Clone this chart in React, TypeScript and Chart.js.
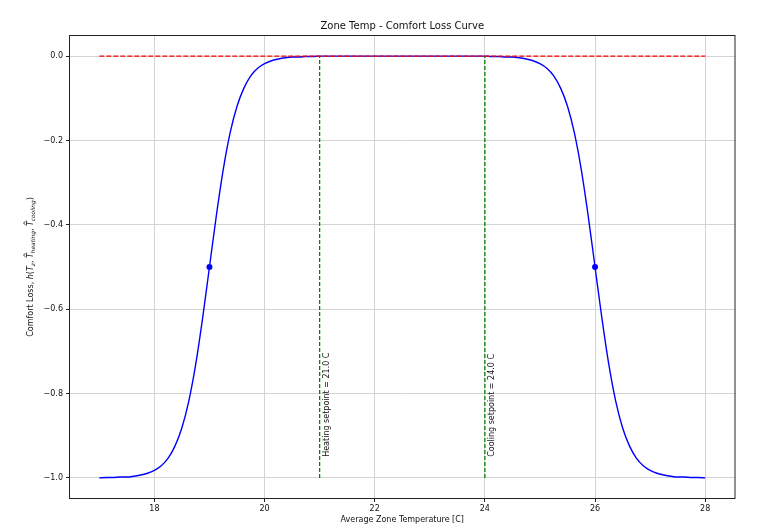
import React, { useEffect, useRef } from "react";
import { Chart, registerables } from "chart.js";

Chart.register(...registerables);

const temps = [
  17, 17.125, 17.25, 17.375, 17.5, 17.625, 17.75, 17.875,
  18, 18.125, 18.25, 18.375, 18.5, 18.625, 18.75, 18.875,
  19, 19.125, 19.25, 19.375, 19.5, 19.625, 19.75, 19.875,
  20, 20.125, 20.25, 20.375, 20.5, 20.625, 20.75, 20.875,
  21, 21.125, 21.25, 21.375, 21.5, 21.625, 21.75, 21.875,
  22, 22.125, 22.25, 22.375, 22.5, 22.625, 22.75, 22.875,
  23, 23.125, 23.25, 23.375, 23.5, 23.625, 23.75, 23.875,
  24, 24.125, 24.25, 24.375, 24.5, 24.625, 24.75, 24.875,
  25, 25.125, 25.25, 25.375, 25.5, 25.625, 25.75, 25.875,
  26, 26.125, 26.25, 26.375, 26.5, 26.625, 26.75, 26.875,
  27, 27.125, 27.25, 27.375, 27.5, 27.625, 27.75, 27.875,
  28,
];
const comfortLoss = [
  -1.0, -0.999, -0.999, -0.998, -0.998, -0.996, -0.993, -0.989,
  -0.982, -0.971, -0.953, -0.924, -0.881, -0.818, -0.731, -0.622,
  -0.5, -0.378, -0.269, -0.182, -0.119, -0.076, -0.047, -0.029,
  -0.018, -0.011, -0.007, -0.004, -0.002, -0.002, -0.001, -0.001,
  0.0, 0.0, 0.0, 0.0, 0.0, 0.0, 0.0, 0.0,
  0.0, 0.0, 0.0, 0.0, 0.0, 0.0, 0.0, 0.0,
  0.0, 0.0, 0.0, 0.0, 0.0, 0.0, 0.0, 0.0,
  0.0, -0.001, -0.001, -0.002, -0.002, -0.004, -0.007, -0.011,
  -0.018, -0.029, -0.047, -0.076, -0.119, -0.182, -0.269, -0.378,
  -0.5, -0.622, -0.731, -0.818, -0.881, -0.924, -0.953, -0.971,
  -0.982, -0.989, -0.993, -0.996, -0.998, -0.998, -0.999, -0.999,
  -1.0,
];
const markerTemps = [19, 26];
const markerLoss = [-0.5, -0.5];
const zeroLineX = [17, 28];
const zeroLineY = [0, 0];
const heatingSetpoint = 21.0;
const coolingSetpoint = 24.0;
const setpointRange = [-1, 0];
const xTicks = [18, 20, 22, 24, 26, 28];
const yTicks = [-1.0, -0.8, -0.6, -0.4, -0.2, 0.0];

const FONT = "'DejaVu Sans', sans-serif";

function drawYLabel(ctx: CanvasRenderingContext2D, cx: number, cy: number) {
  const fs = 8;
  const sub = 5.8;
  type Part = { t: string; size: number; italic: boolean; dy: number; hat?: boolean };
  const parts: Part[] = [
    { t: "Comfort Loss, ", size: fs, italic: false, dy: 0 },
    { t: "h", size: fs, italic: true, dy: 0 },
    { t: "(", size: fs, italic: false, dy: 0 },
    { t: "T", size: fs, italic: true, dy: 0 },
    { t: "z", size: sub, italic: true, dy: 2 },
    { t: ", ", size: fs, italic: false, dy: 0 },
    { t: "T", size: fs, italic: true, dy: 0, hat: true },
    { t: "heating", size: sub, italic: true, dy: 2 },
    { t: ", ", size: fs, italic: false, dy: 0 },
    { t: "T", size: fs, italic: true, dy: 0, hat: true },
    { t: "cooling", size: sub, italic: true, dy: 2 },
    { t: ")", size: fs, italic: false, dy: 0 },
  ];
  ctx.save();
  ctx.translate(cx, cy);
  ctx.rotate(-Math.PI / 2);
  ctx.fillStyle = "#111";
  ctx.strokeStyle = "#111";
  ctx.textBaseline = "middle";
  ctx.textAlign = "left";
  let total = 0;
  const widths = parts.map((p) => {
    ctx.font = `${p.italic ? "italic " : ""}${p.size}px ${FONT}`;
    const w = ctx.measureText(p.t).width;
    total += w;
    return w;
  });
  let x = -total / 2;
  parts.forEach((p, i) => {
    ctx.font = `${p.italic ? "italic " : ""}${p.size}px ${FONT}`;
    ctx.fillText(p.t, x, p.dy);
    if (p.hat) {
      const w = widths[i];
      ctx.lineWidth = 0.8;
      ctx.beginPath();
      ctx.moveTo(x + w * 0.25, -5.5);
      ctx.lineTo(x + w * 0.6, -7.5);
      ctx.lineTo(x + w * 0.95, -5.5);
      ctx.stroke();
    }
    x += widths[i];
  });
  ctx.restore();
}

const framePlugin = {
  id: "framePlugin",
  afterDraw(chart: any) {
    const { ctx, chartArea } = chart;
    const xs = chart.scales.x;
    const ys = chart.scales.y;
    const { left, right, top, bottom } = chartArea;
    ctx.save();
    ctx.strokeStyle = "#222";
    ctx.lineWidth = 1;
    ctx.strokeRect(left + 0.5, top + 0.5, right - left - 1, bottom - top - 1);

    ctx.fillStyle = "#111";
    ctx.font = `10px ${FONT}`;
    ctx.textAlign = "center";
    ctx.textBaseline = "middle";
    ctx.fillText("Zone Temp - Comfort Loss Curve", (left + right) / 2, 26);

    ctx.font = `8px ${FONT}`;
    ctx.fillText("Average Zone Temperature [C]", (left + right) / 2, 520);

    drawYLabel(ctx, 31, (top + bottom) / 2);

    const notes: [number, string][] = [
      [heatingSetpoint, `Heating setpoint = ${heatingSetpoint.toFixed(1)} C`],
      [coolingSetpoint, `Cooling setpoint = ${coolingSetpoint.toFixed(1)} C`],
    ];
    notes.forEach(([v, label]) => {
      const px = xs.getPixelForValue(v + 0.06);
      const py = ys.getPixelForValue(-0.95);
      ctx.save();
      ctx.translate(px, py);
      ctx.rotate(-Math.PI / 2);
      ctx.font = `8px ${FONT}`;
      ctx.textAlign = "left";
      ctx.textBaseline = "top";
      ctx.fillText(label, 0, 0);
      ctx.restore();
    });
    ctx.restore();
  },
};

export default function App() {
  const ref = useRef<HTMLCanvasElement | null>(null);
  useEffect(() => {
    if (!ref.current) return;
    const chart = new Chart(ref.current, {
      type: "line",
      data: {
        datasets: [
          {
            data: zeroLineX.map((x, i) => ({ x, y: zeroLineY[i] })),
            borderColor: "#ff0000",
            borderWidth: 1.4,
            borderDash: [5, 2],
            pointRadius: 0,
            order: 1,
          },
          {
            data: [
              { x: heatingSetpoint, y: setpointRange[0] },
              { x: heatingSetpoint, y: setpointRange[1] },
            ],
            borderColor: "#008000",
            borderWidth: 1.3,
            borderDash: [4, 2],
            pointRadius: 0,
            order: 2,
          },
          {
            data: [
              { x: coolingSetpoint, y: setpointRange[0] },
              { x: coolingSetpoint, y: setpointRange[1] },
            ],
            borderColor: "#008000",
            borderWidth: 1.3,
            borderDash: [4, 2],
            pointRadius: 0,
            order: 2,
          },
          {
            data: markerTemps.map((x, i) => ({ x, y: markerLoss[i] })),
            showLine: false,
            pointRadius: 3,
            pointBackgroundColor: "#0000ff",
            pointBorderColor: "#0000ff",
            pointBorderWidth: 0,
            order: 3,
          },
          {
            data: temps.map((x, i) => ({ x, y: comfortLoss[i] })),
            borderColor: "#0000ff",
            borderWidth: 1.4,
            pointRadius: 0,
            cubicInterpolationMode: "monotone",
            order: 4,
          },
        ],
      },
      options: {
        responsive: false,
        animation: false,
        devicePixelRatio: 1,
        layout: { padding: { left: 0, top: 35, right: 30.5, bottom: 0 } },
        plugins: {
          legend: { display: false },
          tooltip: { enabled: false },
          title: { display: false },
        },
        scales: {
          x: {
            type: "linear",
            min: 16.45,
            max: 28.55,
            afterBuildTicks: (s: any) => {
              s.ticks = xTicks.map((v) => ({ value: v }));
            },
            afterFit: (s: any) => {
              s.height = 33;
            },
            border: { display: false },
            grid: {
              color: "#d4d4d4",
              lineWidth: 1,
              tickLength: 3,
              tickColor: "#222",
              tickWidth: 1,
            },
            ticks: {
              padding: 2,
              color: "#111",
              font: { family: FONT, size: 8 },
              maxRotation: 0,
              callback: (v: any) => String(v),
            },
          },
          y: {
            type: "linear",
            min: -1.05,
            max: 0.05,
            afterBuildTicks: (s: any) => {
              s.ticks = yTicks.map((v) => ({ value: v }));
            },
            afterFit: (s: any) => {
              s.width = 69;
            },
            border: { display: false },
            grid: {
              color: "#d4d4d4",
              lineWidth: 1,
              tickLength: 3,
              tickColor: "#222",
              tickWidth: 1,
            },
            ticks: {
              padding: 3,
              color: "#111",
              font: { family: FONT, size: 8 },
              callback: (v: any) => {
                const n = Number(v);
                const s = Math.abs(n).toFixed(1);
                return n < -1e-9 ? "\u2212" + s : s;
              },
            },
          },
        },
      },
      plugins: [framePlugin],
    } as any);
    return () => chart.destroy();
  }, []);
  return (
    <div style={{ position: "fixed", left: 0, top: 0, width: 766, height: 532, background: "#fff" }}>
      <canvas ref={ref} width={766} height={532} style={{ display: "block" }} />
    </div>
  );
}
